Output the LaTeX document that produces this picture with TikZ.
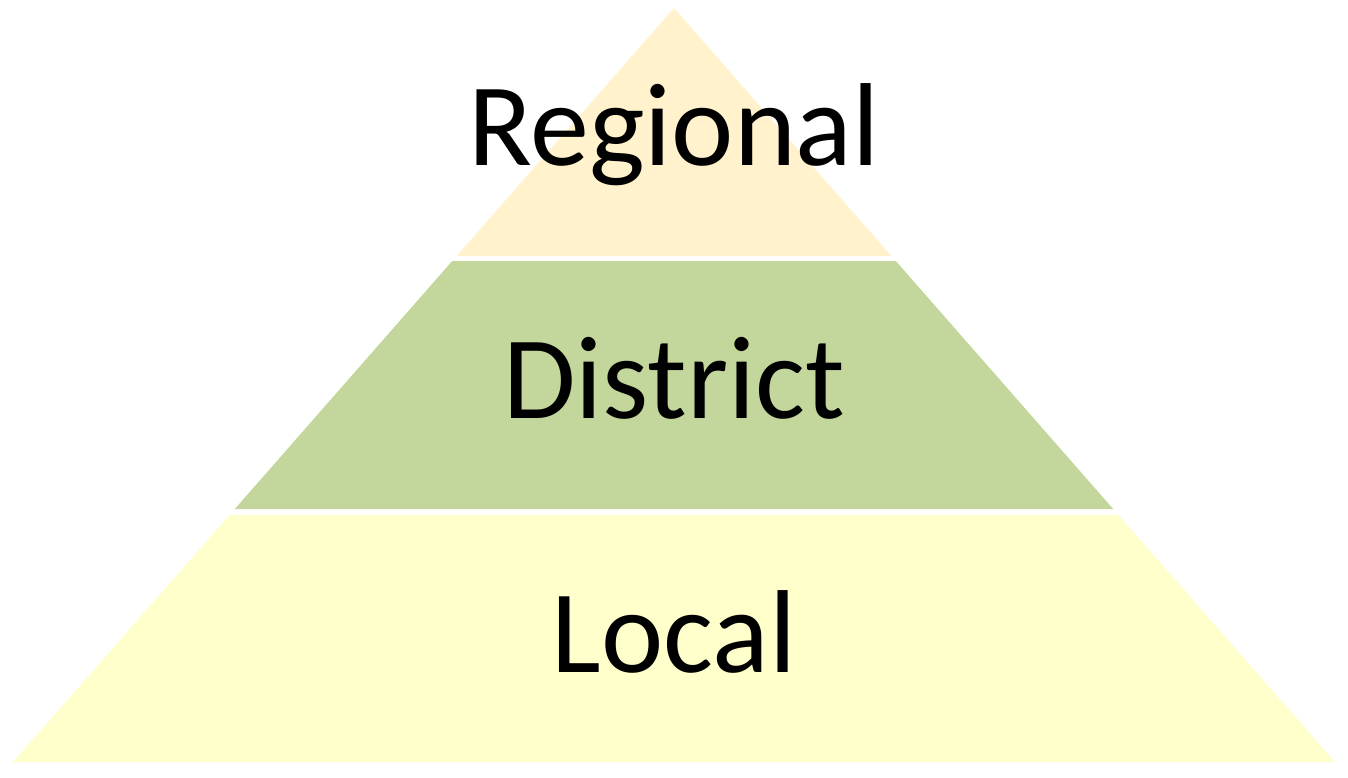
\documentclass[tikz,border=0pt]{standalone}
\usepackage{fontspec}
\setmainfont{Carlito}
\definecolor{topc}{HTML}{FFF2CC}
\definecolor{midc}{HTML}{C3D69B}
\definecolor{botc}{HTML}{FFFFCC}
\begin{document}
\begin{tikzpicture}[x=1pt,y=-1pt,
  lbl/.style={anchor=base,inner sep=0pt,font=\fontsize{118}{122}\selectfont}]
\useasboundingbox (0,0) rectangle (1348,777);
\fill[topc] (674,8) -- (891.4,256) -- (456.6,256) -- cycle;
\fill[midc] (452.2,261) -- (895.8,261) -- (1113.2,509) -- (234.8,509) -- cycle;
\fill[botc] (229.5,515) -- (1118.5,515) -- (1335,762) -- (13,762) -- cycle;
\node[lbl] (regional) at (674,165) {Regional};
\node[lbl] (district) at (674,418) {District};
\node[lbl] (local) at (674,672) {Local};
\end{tikzpicture}
\end{document}
